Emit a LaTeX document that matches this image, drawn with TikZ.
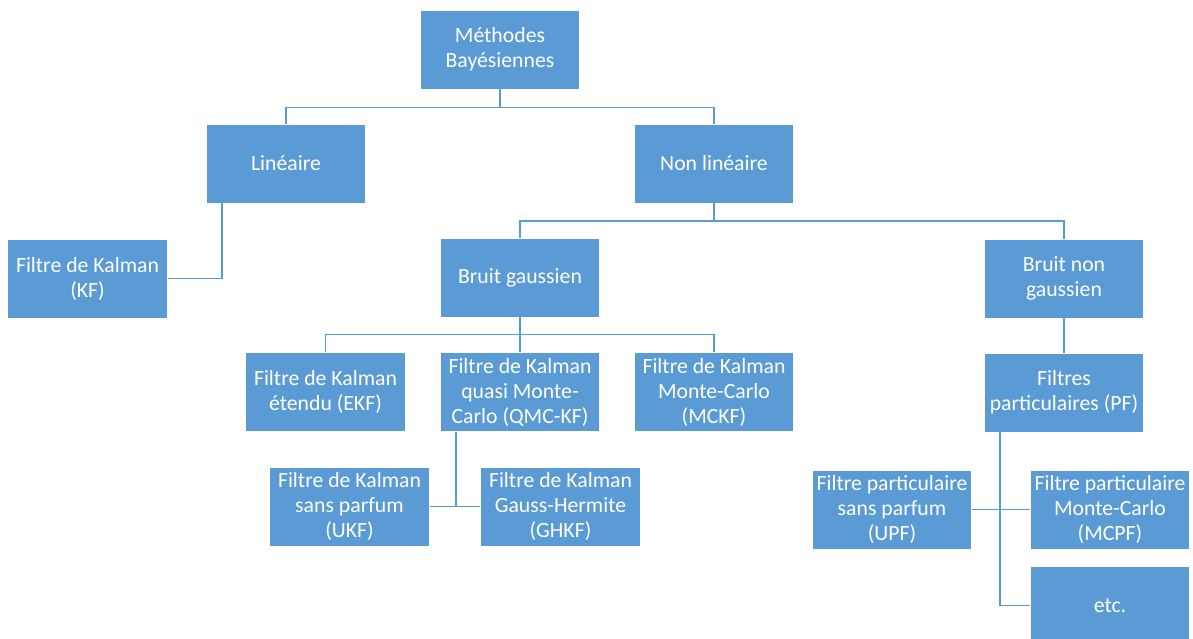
\documentclass[tikz,border=0pt]{standalone}
\usepackage{fontspec}
\setmainfont{Carlito}
\definecolor{bleu}{HTML}{5B9BD5}
\begin{document}
\begin{tikzpicture}[x=0.75pt, y=-0.75pt,
  bloc/.style={fill=bleu, draw=white, line width=0.6pt, text=white, align=center,
    minimum width=119.5pt, minimum height=59.25pt, inner sep=1pt,
    font=\fontsize{16.3}{18.75}\selectfont},
  lien/.style={draw=bleu, line width=1.2pt}]
\useasboundingbox (0,0) rectangle (1193,639);
\node[bloc] (meth) at (500,49.5) {Méthodes\\Bayésiennes};
\node[bloc] (lin) at (286,163.5) {Linéaire};
\node[bloc] (nonlin) at (714,163.5) {Non linéaire};
\node[bloc] (kf) at (87.5,278.5) {Filtre de Kalman\\(KF)};
\node[bloc] (bg) at (520,277.5) {Bruit gaussien};
\node[bloc] (bng) at (1064,278.5) {Bruit non\\gaussien};
\node[bloc] (ekf) at (325.5,392) {Filtre de Kalman\\étendu (EKF)};
\node[bloc] (qmc) at (520,392) {Filtre de Kalman\\quasi Monte-\\Carlo (QMC-KF)};
\node[bloc] (mckf) at (714,392) {Filtre de Kalman\\Monte-Carlo\\(MCKF)};
\node[bloc] (pf) at (1064,392.5) {Filtres\\particulaires (PF)};
\node[bloc] (ukf) at (349.5,506.5) {Filtre de Kalman\\sans parfum\\(UKF)};
\node[bloc] (ghkf) at (560.5,506.5) {Filtre de Kalman\\Gauss-Hermite\\(GHKF)};
\node[bloc] (upf) at (892,509.5) {Filtre particulaire\\sans parfum\\(UPF)};
\node[bloc] (mcpf) at (1110,509.5) {Filtre particulaire\\Monte-Carlo\\(MCPF)};
\node[bloc] (etc) at (1110,605.5) {etc.};
% connecteurs
\draw[lien] (meth.south) -- ++(0,18) -| (lin.north);
\draw[lien] (meth.south) -- ++(0,18) -| (nonlin.north);
\draw[lien] ([xshift=12pt]lin.south west) |- (kf.east);
\draw[lien] (nonlin.south) -- ++(0,17.5) -| (bg.north);
\draw[lien] (nonlin.south) -- ++(0,17.5) -| (bng.north);
\draw[lien] (bg.south) -- ++(0,17) -| (ekf.north);
\draw[lien] (bg.south) -- ++(0,17) -| (mckf.north);
\draw[lien] (bg.south) -- (qmc.north);
\draw[lien] ([xshift=12pt]qmc.south west) |- (ukf.east);
\draw[lien] (ukf.east) -- (ghkf.west);
\draw[lien] (bng.south) -- (pf.north);
\draw[lien] ([xshift=12pt]pf.south west) |- (etc.west);
\draw[lien] (upf.east) -- (mcpf.west);
\end{tikzpicture}
\end{document}
